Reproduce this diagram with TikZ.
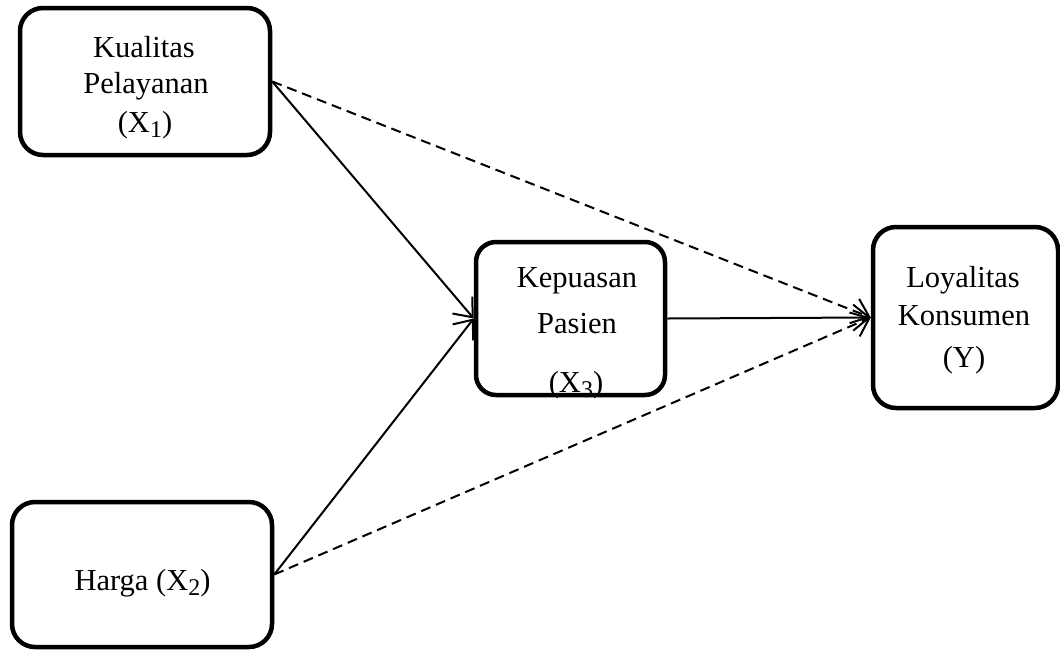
\documentclass[tikz,border=0pt]{standalone}
\usepackage{fontspec}
\setmainfont{Liberation Serif}
\usetikzlibrary{arrows.meta}
\newcommand\mysub[1]{\raisebox{-5.5pt}{\fontsize{24}{24}\selectfont #1}}
\begin{document}
\begin{tikzpicture}[x=1pt,y=-1pt,
  box/.style={draw, line width=4.5pt, rounded corners=23pt, inner sep=0pt},
  txt/.style={anchor=base, inner sep=0pt, font=\fontsize{30.5}{37}\selectfont},
  conn/.style={line width=2pt, -{Straight Barb[length=16pt,width=26pt,line width=2pt]}},
  dconn/.style={conn, dash pattern=on 10pt off 6pt}]
\useasboundingbox (0,0) rectangle (1060,649);
% texts
\node[txt] (t1a) at (144,57) {Kualitas};
\node[txt] (t1b) at (146,93) {Pelayanan};
\node[txt] (t1c) at (145,132) {(X\mysub{1})};
\node[txt] (t2) at (142.5,590) {Harga (X\mysub{2})};
\node[txt] (t3a) at (577,287) {Kepuasan};
\node[txt] (t3b) at (577,333) {Pasien};
\node[txt] (t3c) at (576,392) {(X\mysub{3})};
\node[txt] (t4a) at (963,287) {Loyalitas};
\node[txt] (t4b) at (964,325) {Konsumen};
\node[txt] (t4c) at (964,367) {(Y)};
% boxes
\node[box, minimum width=250pt, minimum height=147pt] (x1) at (145,81.5) {};
\node[box, minimum width=260pt, minimum height=145pt] (x2) at (142,574.5) {};
\node[box, minimum width=189pt, minimum height=153pt, rounded corners=20pt] (x3) at (570.5,318.5) {};
\node[box, minimum width=185pt, minimum height=181pt] (y) at (965.5,317.5) {};
% connectors
\draw[conn] (x1.east) -- (x3.west);
\draw[conn] (x2.east) -- (x3.west);
\draw[conn] (x3.east) -- (y.west);
\draw[dconn] (x1.east) -- (y.west);
\draw[dconn] (x2.east) -- (y.west);
\end{tikzpicture}
\end{document}
